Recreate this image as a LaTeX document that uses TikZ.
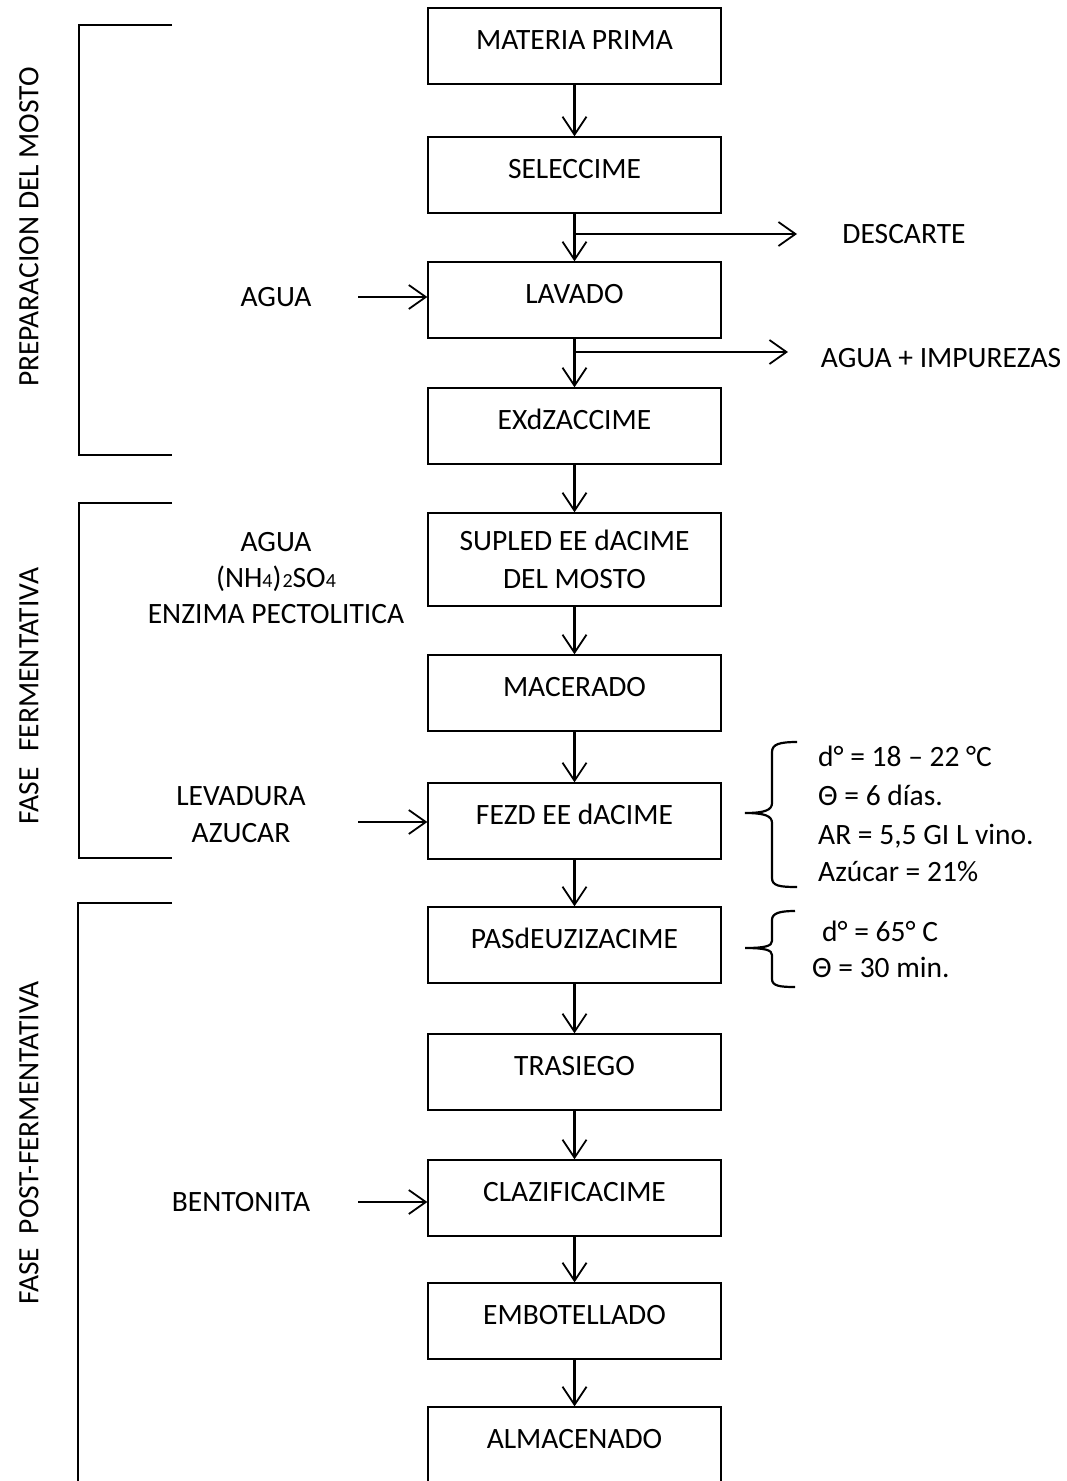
\documentclass[tikz,border=0pt]{standalone}
\usepackage{fontspec}
\setmainfont{Carlito}
\usetikzlibrary{arrows.meta,calc}
\newcommand{\fs}{\fontsize{29.5}{36}\selectfont}
\begin{document}
\begin{tikzpicture}[x=1pt,y=-1pt,
  box/.style={draw, line width=1.3pt, minimum width=293pt, minimum height=76pt, inner sep=0pt, font=\fs},
  onebox/.style={box, text height=18.5pt, text depth=12pt},
  lbl/.style={font=\fs, inner sep=0pt, text height=18.5pt, text depth=0pt},
  mlbl/.style={font=\fs, inner sep=0pt, align=center},
  arr/.style={line width=2.2pt, -{Straight Barb[length=18pt,width=24pt,line width=1.8pt]}},
  harr/.style={line width=1.8pt, -{Straight Barb[length=17pt,width=24pt,line width=1.8pt]}},
  brk/.style={line width=2.4pt},
  brc/.style={line width=2.2pt}]
\useasboundingbox (0,0) rectangle (1067,1481);

% process boxes
\node[onebox] (b1) at (574.5,46) {MATERIA PRIMA};
\node[onebox] (b2) at (574.5,175) {SELECCIME};
\node[onebox] (b3) at (574.5,300) {LAVADO};
\node[onebox] (b4) at (574.5,426) {EXdZACCIME};
\node[box, align=center, minimum height=93pt, font={\fontsize{29.5}{38}\selectfont}] (b5) at (574.5,559.5) {SUPLED EE dACIME\\DEL MOSTO};
\node[onebox] (b6) at (574.5,693) {MACERADO};
\node[onebox] (b7) at (574.5,821) {FEZD EE dACIME};
\node[onebox] (b8) at (574.5,945) {PASdEUZIZACIME};
\node[onebox] (b9) at (574.5,1072) {TRASIEGO};
\node[onebox] (b10) at (574.5,1198) {CLAZIFICACIME};
\node[onebox] (b11) at (574.5,1321) {EMBOTELLADO};
\node[onebox] (b12) at (574.5,1445) {ALMACENADO};

% main flow
\foreach \a/\b in {b1/b2,b2/b3,b3/b4,b4/b5,b5/b6,b6/b7,b7/b8,b8/b9,b9/b10,b10/b11,b11/b12}
  \draw[arr] (\a) -- (\b);

% outputs
\node[lbl] (desc) at (904,234) {DESCARTE};
\node[lbl] (imp) at (941,358) {AGUA + IMPUREZAS};
\coordinate (s1) at (573,234);
\coordinate (e1) at (797,234);
\coordinate (s2) at (573,352);
\coordinate (e2) at (788,352);
\draw[harr] (s1) -- (e1);
\draw[harr] (s2) -- (e2);

% inputs
\node[lbl] (agua) at (276,297) {AGUA};
\node[mlbl] (mix) at (276,578) {AGUA\\(NH{\fontsize{20}{20}\selectfont 4})\kern1pt{\fontsize{20}{20}\selectfont 2}SO{\fontsize{20}{20}\selectfont 4}\\ENZIMA PECTOLITICA};
\node[mlbl, font={\fontsize{29.5}{37}\selectfont}] (lev) at (241,814.5) {LEVADURA\\AZUCAR};
\node[lbl] (bent) at (241,1202) {BENTONITA};
\coordinate (i1) at (358,297);
\coordinate (i2) at (358,822);
\coordinate (i3) at (358,1202);
\draw[harr] (i1) -- (i1 -| b3.west);
\draw[harr] (i2) -- (i2 -| b7.west);
\draw[harr] (i3) -- (i3 -| b10.west);

% phase brackets
\draw[brk] (172,25) -- (79,25) -- (79,455) -- (172,455);
\draw[brk] (172,503) -- (79,503) -- (79,858) -- (172,858);
\draw[brk] (172,903) -- (78,903) -- (78,1490);
\node[lbl, rotate=90] (ph1) at (29,227) {PREPARACION DEL MOSTO};
\node[lbl, rotate=90] (ph2) at (29,696) {FASE\hspace{9pt} FERMENTATIVA};
\node[lbl, rotate=90] (ph3) at (29,1143) {FASE\hspace{7pt} POST-FERMENTATIVA};

% braces with parameters
\draw[brc] (797,742) .. controls (780,742) and (772,744) .. (772,752) -- (772,803)
  .. controls (772,810) and (765,813) .. (745,813)
  .. controls (765,813) and (772,816) .. (772,823) -- (772,878)
  .. controls (772,886) and (780,887) .. (797,887);
\node[lbl, anchor=west] (p1) at (818,757) {d° = 18 – 22 °C};
\node[lbl, anchor=west] (p2) at (818,796) {Θ = 6 días.};
\node[lbl, anchor=west] (p3) at (818,835) {AR = 5,5 GI L vino.};
\node[lbl, anchor=west] (p4) at (818,872) {Azúcar = 21\%};

\draw[brc] (795,911) .. controls (780,911) and (772,913) .. (772,920) -- (772,941)
  .. controls (772,946) and (765,948) .. (745,948)
  .. controls (765,948) and (772,950) .. (772,955) -- (772,979)
  .. controls (772,986) and (780,987) .. (795,987);
\node[lbl, anchor=west] (q1) at (822,932) {d° = 65° C};
\node[lbl, anchor=west] (q2) at (812,968) {Θ = 30 min.};
\end{tikzpicture}
\end{document}
